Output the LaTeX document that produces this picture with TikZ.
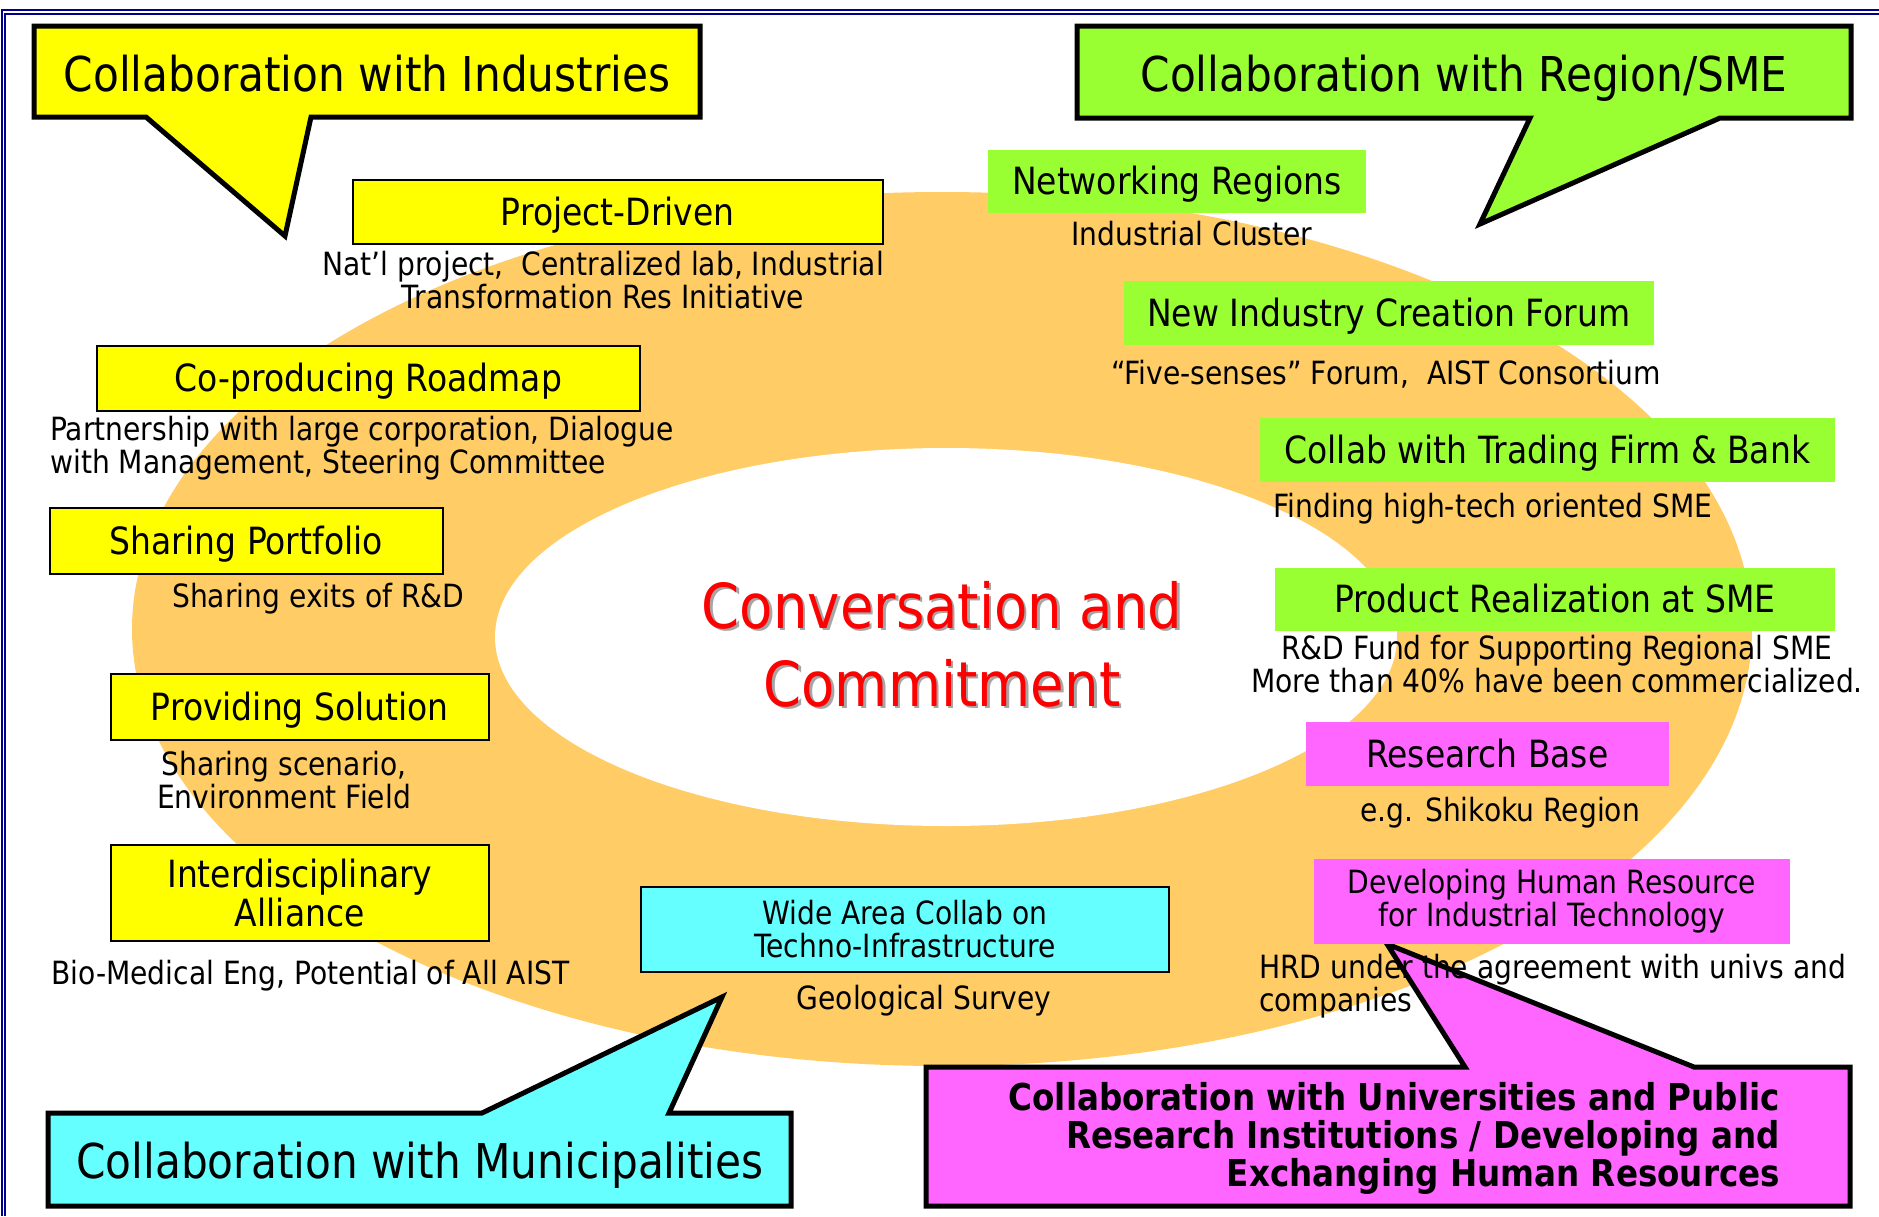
\documentclass[tikz,border=0pt]{standalone}
\usepackage{fontspec}
\setmainfont{DejaVu Sans}[FakeStretch=0.88]
\usetikzlibrary{positioning}

\definecolor{cYel}{RGB}{255,255,0}
\definecolor{cGrn}{RGB}{153,255,51}
\definecolor{cCyn}{RGB}{102,255,255}
\definecolor{cMag}{RGB}{255,102,255}
\definecolor{cRing}{RGB}{255,204,102}
\definecolor{cFrame}{RGB}{0,0,140}
\newcommand{\fsize}[2]{\fontsize{#1}{#2}\selectfont}

\begin{document}
\begin{tikzpicture}[x=1pt, y=-1pt,
    ybox/.style={rectangle, draw=black, line width=1.6pt, fill=cYel,
                 anchor=north west, inner sep=0pt, align=center,
                 font=\fsize{37.5}{39}},
    gbox/.style={ybox, draw=none, fill=cGrn},
    mbox/.style={ybox, draw=none, fill=cMag},
    cbox/.style={ybox, fill=cCyn, font=\fsize{32}{33}},
    one/.style={text height=27pt, text depth=0pt},
    sub/.style={anchor=base, inner sep=0pt, align=center,
                font=\fsize{32}{33}},
    subl/.style={sub, anchor=base west, align=left},
    callout/.style={draw=black, line width=5pt, line join=miter},
    ttl/.style={anchor=base, inner sep=0pt, font=\fsize{48}{50}},
    core/.style={anchor=base, inner sep=0pt, align=center,
                 font=\fsize{62}{78}},
]
\useasboundingbox (0,0) rectangle (1879,1216);

%% Frame
\draw[cFrame, line width=2pt] (1879,9.5) -- (1.5,9.5) -- (1.5,1216);
\draw[cFrame, line width=2pt] (1879,14) -- (5,14) -- (5,1216);

%% Ring
\fill[cRing] (942,629) ellipse [x radius=810, y radius=437];
\fill[white] (946,637) ellipse [x radius=451, y radius=189];

%% Callouts
\draw[callout, fill=cYel] (34,26) -- (700,26) -- (700,117) -- (311,117)
    -- (285,236) -- (146,117) -- (34,117) -- cycle;
\node[ttl] (ind) at (367,91) {Collaboration with Industries};

\draw[callout, fill=cGrn] (1077,26) -- (1851,26) -- (1851,118) -- (1720,118)
    -- (1480,224) -- (1530,118) -- (1077,118) -- cycle;
\node[ttl] (reg) at (1464,91) {Collaboration with Region/SME};

\draw[callout, fill=cCyn] (48,1113) -- (482,1113) -- (722,997) -- (669,1113)
    -- (791,1113) -- (791,1206) -- (48,1206) -- cycle;
\node[ttl] (mun) at (420,1178) {Collaboration with Municipalities};

\draw[callout, fill=cMag] (926,1067) -- (1465,1067) -- (1387,944) -- (1694,1067)
    -- (1850,1067) -- (1850,1206) -- (926,1206) -- cycle;
%% multi-line nodes: base is the last line
\node[ttl, anchor=base east, align=right, font=\fsize{37}{38}\bfseries]
    (uni) at (1780,1186) {Collaboration with Universities and Public\\
    Research Institutions / Developing and\\Exchanging Human Resources};

%% Industries side
\node[ybox, one, minimum width=530pt, minimum height=64pt] (drv) at (352,179) {Project-Driven};
\node[sub] (drvsub) at (603,308) {Nat’l project,\ \ Centralized lab, Industrial\\Transformation Res Initiative};

\node[ybox, one, minimum width=543pt, minimum height=65pt] (map) at (96,345) {Co-producing Roadmap};
\node[subl] (mapsub) at (50,473) {Partnership with large corporation, Dialogue\\with Management, Steering Committee};

\node[ybox, one, minimum width=393pt, minimum height=66pt] (port) at (49,507) {Sharing Portfolio};
\node[subl] (portsub) at (172,607) {Sharing exits of R\&D};

\node[ybox, one, minimum width=378pt, minimum height=66pt] (sol) at (110,673) {Providing Solution};
\node[sub] (solsub) at (284,808) {Sharing scenario,\\Environment Field};

\node[ybox, minimum width=378pt, minimum height=96pt] (ally) at (110,844) {Interdisciplinary\\Alliance};
\node[subl] (allysub) at (51,984) {Bio-Medical Eng, Potential of All AIST};

%% Municipalities
\node[cbox, minimum width=528pt, minimum height=85pt] (wide) at (640,886) {Wide Area Collab on\\Techno-Infrastructure};
\node[sub] (widesub) at (924,1009) {Geological Survey};

%% Region / SME side
\node[gbox, one, minimum width=378pt, minimum height=63pt] (net) at (987,149) {Networking Regions};
\node[sub] (netsub) at (1192,245) {Industrial Cluster};

\node[gbox, one, minimum width=530pt, minimum height=64pt] (forum) at (1123,280) {New Industry Creation Forum};
\node[sub] (forumsub) at (1386,384) {“Five-senses” Forum,\ \ AIST Consortium};

\node[gbox, one, minimum width=575pt, minimum height=64pt] (bank) at (1259,417) {Collab with Trading Firm \& Bank};
\node[sub] (banksub) at (1493,517) {Finding high-tech oriented SME};

\node[gbox, one, minimum width=560pt, minimum height=63pt] (sme) at (1274,567) {Product Realization at SME};
\node[sub] (smesub) at (1557,692) {R\&D Fund for Supporting Regional SME\\More than 40\% have been commercialized.};

%% Universities side
\node[mbox, one, minimum width=363pt, minimum height=64pt] (base) at (1305,721) {Research Base};
\node[sub] (basesub) at (1500,821) {e.g. Shikoku Region};

\node[mbox, minimum width=476pt, minimum height=85pt, font=\fsize{32}{33}] (hrd) at (1313,858) {Developing Human Resource\\for Industrial Technology};
\node[subl] (hrdsub) at (1259,1011) {HRD under the agreement with univs and\\companies};

%% Centre
\node[core, text=black!35] (coresh) at (944.5,708.5) {Conversation and\\Commitment};
\node[core, text=red] (core) at (942,706) {Conversation and\\Commitment};
\end{tikzpicture}
\end{document}
